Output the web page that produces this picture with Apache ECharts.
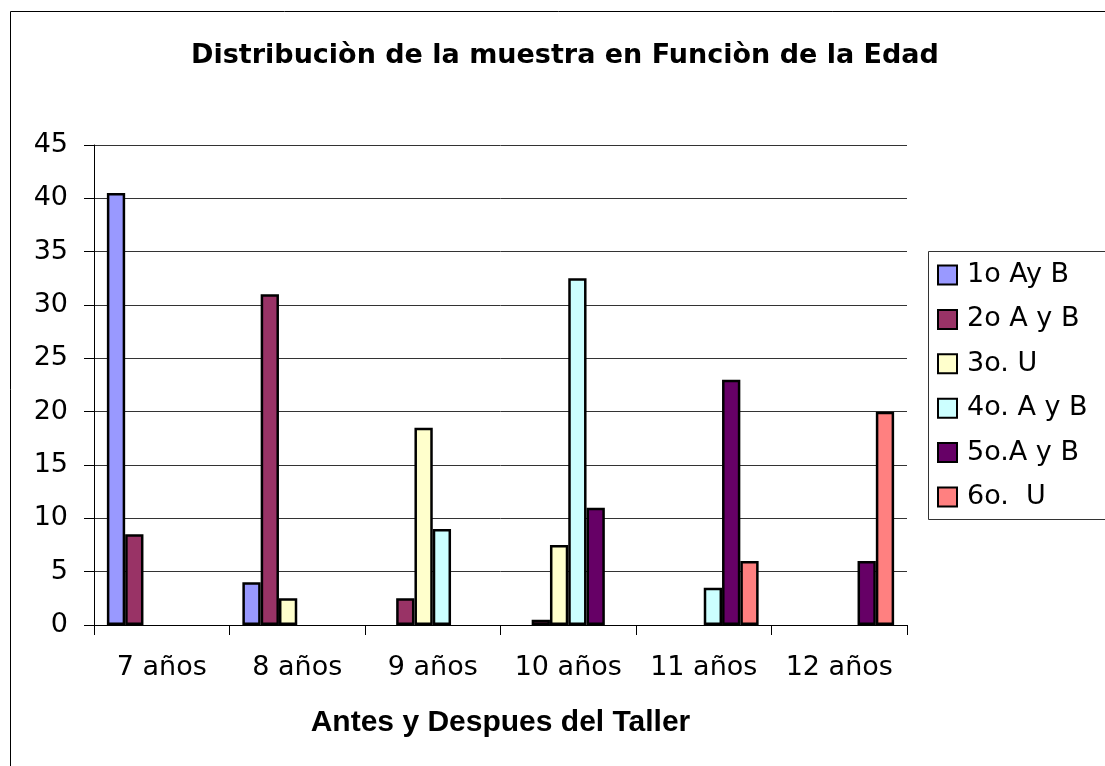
<!DOCTYPE html>
<html>
<head>
<meta charset="utf-8">
<script src="https://cdn.jsdelivr.net/npm/echarts@6/dist/echarts.min.js"></script>
<style>html,body{margin:0;padding:0;background:#fff}#c{width:1105px;height:766px}</style>
</head>
<body>
<div id="c"></div>
<script>
var categories = ['7 años', '8 años', '9 años', '10 años', '11 años', '12 años'];
var seriesNames = ['1o Ay B', '2o A y B', '3o. U', '4o. A y B', '5o.A y B', '6o.  U'];
var s1 = [40.5, 4, 0, 0, 0, 0];
var s2 = [8.5, 31, 2.5, 0.5, 0, 0];
var s3 = [0, 2.5, 18.5, 7.5, 0, 0];
var s4 = [0, 0, 9, 32.5, 3.5, 0];
var s5 = [0, 0, 0, 11, 23, 6];
var s6 = [0, 0, 0, 0, 6, 20];
var seriesValues = [s1, s2, s3, s4, s5, s6];
var colors = ['#9999FF', '#993366', '#FFFFCC', '#CCFFFF', '#660066', '#FF8080'];
var titleText = 'Distribuciòn de la muestra en Funciòn de la Edad';
var xAxisName = 'Antes y Despues del Taller';

var chart = echarts.init(document.getElementById('c'), null, {renderer: 'canvas'});
var series = seriesNames.map(function (n, i) {
  return {
    name: n,
    type: 'bar',
    barGap: '0%',
    barCategoryGap: '19%',
    data: seriesValues[i].map(function (v) { return v === 0 ? '-' : v; }),
    itemStyle: {color: colors[i], borderColor: '#000', borderWidth: 2.5},
    emphasis: {disabled: true}
  };
});
chart.setOption({
  animation: false,
  backgroundColor: '#fff',
  title: {
    text: titleText,
    left: 560, top: 37, textAlign: 'center',
    textStyle: {fontFamily: 'DejaVu Sans', fontWeight: 'bold', fontSize: 27, color: '#000'}
  },
  graphic: [
    {type: 'rect', shape: {x: 10.5, y: 11.5, width: 1200, height: 800}, style: {fill: 'none', stroke: '#000', lineWidth: 1}, z: -10},
    {type: 'rect', shape: {x: 928.5, y: 251.5, width: 300, height: 268}, style: {fill: '#fff', stroke: '#333', lineWidth: 1}, z: -5}
  ],
  legend: {
    orient: 'vertical',
    left: 937, top: 260,
    padding: 0,
    itemWidth: 19, itemHeight: 19,
    itemGap: 14.4,
    icon: 'rect',
    textStyle: {fontFamily: 'DejaVu Sans', fontSize: 27, color: '#000', lineHeight: 30, padding: [0, 0, 0, 5]},
    data: seriesNames
  },
  grid: {left: 94, right: 198, top: 145, bottom: 141, containLabel: false},
  xAxis: {
    type: 'category',
    data: categories,
    name: xAxisName,
    nameLocation: 'middle',
    nameGap: 83,
    nameTextStyle: {fontFamily: 'Liberation Sans', fontWeight: 'bold', fontSize: 30, color: '#000', verticalAlign: 'top'},
    axisLine: {lineStyle: {color: '#000', width: 1}},
    axisTick: {show: true, length: 10, interval: 0, alignWithLabel: false, lineStyle: {color: '#000'}},
    axisLabel: {interval: 0, fontFamily: 'DejaVu Sans', fontSize: 27, color: '#000', margin: 29}
  },
  yAxis: {
    type: 'value',
    min: 0, max: 45, interval: 5,
    axisLine: {show: true, lineStyle: {color: '#000', width: 1}},
    axisTick: {show: true, length: 10, lineStyle: {color: '#000'}},
    axisLabel: {fontFamily: 'DejaVu Sans', fontSize: 27, color: '#000', margin: 26},
    splitLine: {show: true, lineStyle: {color: '#333', width: 1}}
  },
  series: series
});
</script>
</body>
</html>
